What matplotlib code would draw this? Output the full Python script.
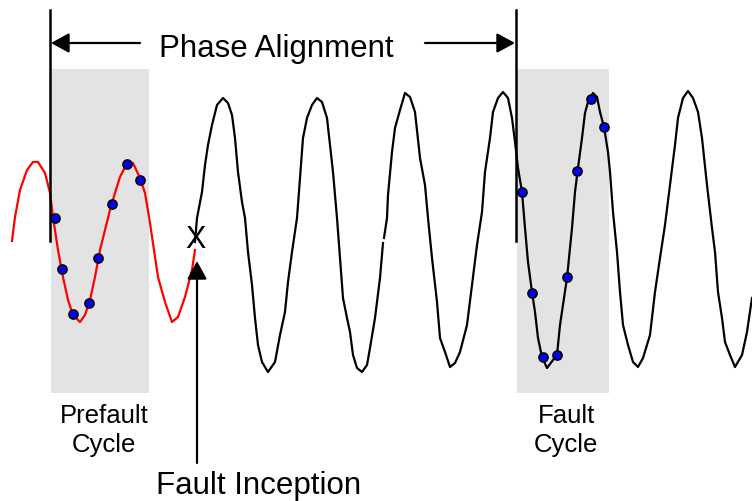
import matplotlib
matplotlib.use('Agg')
import matplotlib.pyplot as plt
from matplotlib.patches import Rectangle

W, H = 752, 501

# prefault waveform (red), image pixel coordinates
red_x = [12, 15, 20, 27, 33, 38, 45, 50, 53, 58, 63, 68, 73, 80, 85, 90, 95, 100,
         105, 110, 115, 120, 127, 133, 140, 145, 150, 154, 158, 165, 172, 178, 185,
         192, 195]
red_y = [241, 217, 190, 170, 162, 162, 173, 193, 217, 250, 277, 300, 315, 322, 315,
         300, 277, 250, 230, 210, 193, 177, 163, 163, 178, 193, 223, 250, 277, 302,
         322, 317, 297, 270, 250]

# fault waveform (black); None marks the small break in the trace
black_x = [195, 197, 202, 205, 208, 212, 217, 223, 228, 232, 235, 238, 242, 245, 248,
           252, 255, 258, 262, 268, 275, 280, 285, 288, 292, 297, 300, 303, 307, 312,
           317, 322, 327, 330, 333, 337, 340, 343, 347, 350, 353, 357, 362, 367, 370,
           375, 380, 383, None, 384, 387, 388, 392, 395, 400, 405, 410, 415, 420, 425,
           428, 432, 437, 440, 445, 450, 455, 460, 467, 472, 477, 482, 485, 490, 493,
           498, 503, 508, 512, 515, 518, 522, 525, 528, 532, 535, 538, 542, 547, 553,
           557, 560, 567, 572, 575, 578, 582, 585, 588, 593, 597, 600, 604, 608, 610,
           613, 617, 620, 623, 628, 633, 638, 643, 650, 655, 660, 665, 670, 675, 678,
           683, 688, 693, 698, 702, 707, 712, 715, 718, 722, 725, 730, 735, 742, 747,
           752]
black_y = [242, 218, 192, 165, 145, 125, 105, 98, 103, 115, 138, 172, 202, 218, 252,
           285, 318, 345, 362, 372, 362, 335, 312, 282, 252, 218, 178, 138, 118, 105,
           98, 102, 118, 145, 172, 218, 258, 298, 318, 332, 355, 368, 372, 365, 348,
           318, 278, 243, None, 238, 218, 195, 152, 128, 110, 93, 97, 112, 158, 185,
           218, 258, 302, 338, 352, 367, 363, 352, 325, 285, 245, 212, 172, 138, 112,
           98, 92, 98, 118, 142, 168, 192, 228, 262, 292, 312, 338, 357, 368, 360,
           355, 325, 278, 228, 192, 168, 138, 113, 102, 93, 97, 112, 127, 152, 172,
           212, 252, 292, 325, 345, 362, 367, 358, 335, 292, 258, 225, 185, 145, 118,
           98, 91, 98, 112, 138, 185, 228, 252, 292, 318, 342, 355, 367, 355, 332,
           298]

# sampled points in each window
pre_dots_x = [55, 62, 73, 89, 98, 112, 127, 140]
pre_dots_y = [218, 269, 314, 303, 258, 204, 164, 180]
fault_dots_x = [522, 532, 543, 557, 567, 577, 591, 604]
fault_dots_y = [192, 293, 357, 355, 277, 171, 99, 127]

# shaded windows: (left, top, right, bottom)
windows = [(51, 69, 149, 393), (517, 69, 609, 393)]
marker_lines_x = [50, 516]

fig = plt.figure(figsize=(W / 100, H / 100), dpi=100)
ax = fig.add_axes([0, 0, 1, 1])
ax.set_xlim(0, W)
ax.set_ylim(H, 0)
ax.axis('off')

for left, top, right, bottom in windows:
    ax.add_patch(Rectangle((left, top), right - left, bottom - top,
                           facecolor='#e3e3e3', edgecolor='none', zorder=0))

ax.plot(red_x, red_y, color='red', lw=1.6, zorder=2)
bx = [float('nan') if v is None else v for v in black_x]
by = [float('nan') if v is None else v for v in black_y]
ax.plot(bx, by, color='black', lw=1.6, zorder=2)

for x in marker_lines_x:
    ax.plot([x, x], [10, 241], color='black', lw=1.8, zorder=3)

dot_style = dict(ls='none', marker='o', ms=6.5, mfc='#0000ff', mec='black', mew=1.2, zorder=4)
ax.plot(pre_dots_x, pre_dots_y, **dot_style)
ax.plot(fault_dots_x, fault_dots_y, **dot_style)

arrow = dict(arrowstyle='-|>,head_length=0.55,head_width=0.3', mutation_scale=20,
             color='black', lw=1.6, shrinkA=0, shrinkB=0)
ax.annotate('', xy=(51, 43), xytext=(140, 43), arrowprops=arrow)
ax.annotate('', xy=(515, 43), xytext=(425, 43), arrowprops=arrow)
ax.annotate('', xy=(197, 261), xytext=(197, 463), arrowprops=arrow)

font = 'Liberation Sans'
ax.text(276, 57, 'Phase Alignment', fontsize=22.5, family=font, ha='center', va='baseline')
ax.text(195, 240, 'X', fontsize=22, family=font, ha='center', va='center')
ax.text(259, 494, 'Fault Inception', fontsize=22.5, family=font, ha='center', va='baseline')

ax.text(104, 423, 'Prefault', fontsize=18.5, family=font, ha='center', va='baseline')
ax.text(104, 452, 'Cycle', fontsize=18.5, family=font, ha='center', va='baseline')
ax.text(566, 423, 'Fault', fontsize=18.5, family=font, ha='center', va='baseline')
ax.text(566, 452, 'Cycle', fontsize=18.5, family=font, ha='center', va='baseline')

fig.savefig('out.png', dpi=100)
